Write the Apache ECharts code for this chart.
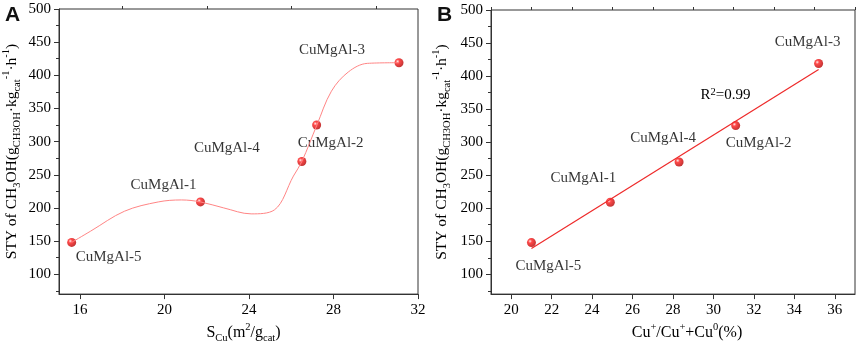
<!DOCTYPE html>
<html>
<head>
<meta charset="utf-8">
<script src="https://cdn.jsdelivr.net/npm/echarts@6/dist/echarts.min.js"></script>
<style>
    html, body { margin: 0; padding: 0; background: #fff; }
    #main { width: 858px; height: 349px; }
</style>
</head>
<body>
<div id="main"></div>
<script>
// 样品名称
var sampleNames = ['CuMgAl-5', 'CuMgAl-1', 'CuMgAl-4', 'CuMgAl-2', 'CuMgAl-3'];
// STY 值（两图相同）
var styValues = [148, 209, 270, 325, 419];
// 图A 横坐标 S_Cu
var scuValues = [15.6, 21.7, 26.5, 27.2, 31.1];
// 图B 横坐标 Cu+/Cu++Cu0
var cuRatioValues = [21.0, 24.9, 28.3, 31.1, 35.2];
// 图A 平滑曲线（从图上读出的点）
var curveX = [15.6, 16.5, 18.1, 19.7, 20.8, 21.7, 22.8, 24.1, 25.2, 26.1, 26.5, 27.2, 27.9, 28.7, 29.6, 31.1];
var curveY = [148, 165, 195, 209, 212, 209, 200, 191, 197, 248, 270, 324, 376, 405, 418, 419];
// 图B 拟合直线端点
var fitX = [21.0, 35.2];
var fitY = [139, 410];
var fitText = 'R{p|2}=0.99';
var fitTextAt = [30.6, 372];
// 刻度
var yTicks = [100, 150, 200, 250, 300, 350, 400, 450, 500];
var yMinorTicks = [75, 125, 175, 225, 275, 325, 375, 425, 475];
var xTicksA = [16, 20, 24, 28, 32];
var xMinorTicksA = [18, 22, 26, 30];
var xTicksB = [20, 22, 24, 26, 28, 30, 32, 34, 36];
var xMinorTicksB = [19, 21, 23, 25, 27, 29, 31, 33, 35, 37];

var serif = 'Liberation Serif';
var ink = '#000';

// 标签偏移（相对数据点）
var labelOffsetA = [[37, 15], [-37, -17], [-75, -13], [14, 18], [-67, -13]];
var labelOffsetB = [[17, 23], [-27, -24], [-16, -24], [23, 17], [-11, -21]];

var richText = {
    s: { fontFamily: serif, fontSize: 10.5, lineHeight: 14, verticalAlign: 'bottom', color: ink },
    p: { fontFamily: serif, fontSize: 10.5, lineHeight: 14, verticalAlign: 'top', color: ink }
};
var yName = 'STY of CH{s|3}OH(g{s|CH3OH}·kg{s|cat}{p|-1}·h{p|-1})';

var ball = {
    type: 'radial', x: 0.35, y: 0.35, r: 0.7,
    colorStops: [
        { offset: 0, color: '#ffe4e4' },
        { offset: 0.3, color: '#ff1c1c' },
        { offset: 1, color: '#b00000' }
    ]
};

function pairs(xs, ys) {
    var out = [];
    for (var i = 0; i < xs.length; i++) out.push([xs[i], ys[i]]);
    return out;
}

function pointData(xs, offsets) {
    return sampleNames.map(function (n, i) {
        return {
            name: n,
            value: [xs[i], styValues[i]],
            label: { offset: offsets[i] }
        };
    });
}

function mainX(grid, min, max, ticks, name, nameGap, namePad) {
    return {
        type: 'value', gridIndex: grid, min: min, max: max,
        name: name, nameLocation: 'middle', nameGap: nameGap,
        nameTextStyle: { fontFamily: serif, fontSize: 16, color: ink, lineHeight: 22, rich: richText, padding: namePad },
        axisLine: { show: true, onZero: false, lineStyle: { color: '#333', width: 1 } },
        axisTick: { show: true, inside: false, length: 5, customValues: ticks, lineStyle: { color: '#333' } },
        axisLabel: { customValues: ticks, margin: 8, fontFamily: serif, fontSize: 15, color: ink },
        splitLine: { show: false }
    };
}
function minorX(grid, min, max, ticks) {
    return {
        type: 'value', gridIndex: grid, min: min, max: max,
        axisLine: { show: false, onZero: false },
        axisTick: { show: true, length: 3, customValues: ticks, lineStyle: { color: '#333' } },
        axisLabel: { show: false },
        splitLine: { show: false }
    };
}
function mainY(grid, nameGap) {
    return {
        type: 'value', gridIndex: grid, min: 70, max: 500,
        name: yName, nameLocation: 'middle', nameGap: nameGap, nameRotate: 90,
        nameTextStyle: { fontFamily: serif, fontSize: 15.5, color: ink, lineHeight: 22, rich: richText },
        axisLine: { show: true, onZero: false, lineStyle: { color: '#333', width: 1 } },
        axisTick: { show: true, length: 5, customValues: yTicks, lineStyle: { color: '#333' } },
        axisLabel: { customValues: yTicks, margin: 8, fontFamily: serif, fontSize: 15, color: ink },
        splitLine: { show: false }
    };
}
function minorY(grid) {
    return {
        type: 'value', gridIndex: grid, min: 70, max: 500, position: 'left', offset: 0,
        axisLine: { show: false, onZero: false },
        axisTick: { show: true, length: 3, customValues: yMinorTicks, lineStyle: { color: '#333' } },
        axisLabel: { show: false },
        splitLine: { show: false }
    };
}

var chart = echarts.init(document.getElementById('main'));
var option = {
    animation: false,
    backgroundColor: '#fff',
    title: [
        { text: 'A', left: 0, top: 0, textStyle: { fontFamily: 'Liberation Sans', fontWeight: 'bold', fontSize: 21, color: '#111' } },
        { text: 'B', left: 432, top: 0, textStyle: { fontFamily: 'Liberation Sans', fontWeight: 'bold', fontSize: 21, color: '#111' } }
    ],
    grid: [
        { left: 55, right: 440, top: 9, bottom: 47, show: true, borderColor: '#333', borderWidth: 1 },
        { left: 491, right: 3, top: 10, bottom: 45, show: true, borderColor: '#333', borderWidth: 1 }
    ],
    xAxis: [
        mainX(0, 15, 32, xTicksA, 'S{s|Cu}(m{p|2}/g{s|cat})', 24, [0, 0, 0, 10]),
        minorX(0, 15, 32, xMinorTicksA),
        mainX(1, 19, 37, xTicksB, 'Cu{p|+}/Cu{p|+}+Cu{p|0}(%)', 24, [0, 0, 0, 28]),
        minorX(1, 19, 37, xMinorTicksB)
    ],
    yAxis: [
        mainY(0, 36),
        minorY(0),
        mainY(1, 38),
        minorY(1)
    ],
    series: [
        {
            // 图A 平滑曲线
            type: 'line', xAxisIndex: 0, yAxisIndex: 0,
            data: pairs(curveX, curveY),
            smooth: 0.35, showSymbol: false, silent: true,
            lineStyle: { color: '#ff8585', width: 1 }
        },
        {
            type: 'scatter', xAxisIndex: 0, yAxisIndex: 0,
            data: pointData(scuValues, labelOffsetA),
            symbol: 'circle', symbolSize: 9,
            itemStyle: { color: ball },
            label: {
                show: true, position: 'inside', formatter: '{b}',
                fontFamily: serif, fontSize: 15, color: ink
            }
        },
        {
            // 图B 线性拟合
            type: 'line', xAxisIndex: 2, yAxisIndex: 2,
            data: pairs(fitX, fitY),
            showSymbol: false, silent: true,
            lineStyle: { color: '#ee2a2a', width: 1.2 },
            markPoint: {
                symbol: 'circle', symbolSize: 0,
                label: {
                    show: true, position: 'inside', formatter: fitText,
                    fontFamily: serif, fontSize: 15, color: ink, rich: richText
                },
                data: [{ coord: fitTextAt }]
            }
        },
        {
            type: 'scatter', xAxisIndex: 2, yAxisIndex: 2,
            data: pointData(cuRatioValues, labelOffsetB),
            symbol: 'circle', symbolSize: 9,
            itemStyle: { color: ball },
            label: {
                show: true, position: 'inside', formatter: '{b}',
                fontFamily: serif, fontSize: 15, color: ink
            }
        }
    ]
};
chart.setOption(option);
</script>
</body>
</html>
